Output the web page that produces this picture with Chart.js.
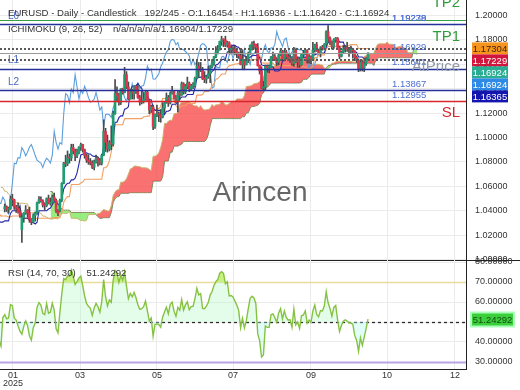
<!DOCTYPE html>
<html>
<head>
<meta charset="utf-8">
<script src="https://cdn.jsdelivr.net/npm/chart.js@4.4.1/dist/chart.umd.min.js"></script>
<style>
html,body{margin:0;padding:0;background:#ffffff;overflow:hidden;}
#wrap{position:relative;width:520px;height:390px;overflow:hidden;}
canvas{position:absolute;left:0;}
#mainC{top:0;}
#rsiC{top:250px;}
</style>
</head>
<body>
<div id="wrap">
<canvas id="mainC" width="520" height="272" style="width:520px;height:272px"></canvas>
<canvas id="rsiC" width="520" height="140" style="width:520px;height:140px"></canvas>
</div>
<script>
const FONT = '"Liberation Sans", Arial, sans-serif';

// ---------- hidden history (indicator warm-up only) ----------
const histOpen = [1.0880,1.0930,1.0730,1.0800,1.0718,1.0655,1.0623,1.0565,1.0530,1.0540,
1.0597,1.0595,1.0545,1.0470,1.0450,1.0495,1.0487,1.0565,1.0555,1.0576,
1.0497,1.0510,1.0512,1.0588,1.0568,1.0553,1.0528,1.0502,1.0468,1.0500,
1.0512,1.0490,1.0350,1.0363,1.0430,1.0405,1.0395,1.0423,1.0427,1.0410,
1.0355,1.0265,1.0307,1.0390,1.0340,1.0320,1.0300,1.0243,1.0245,1.0307,
1.0290,1.0300,1.0272];
const histHigh = [1.0937,1.0935,1.0805,1.0815,1.0720,1.0665,1.0655,1.0580,1.0570,1.0608,
1.0630,1.0610,1.0555,1.0490,1.0532,1.0510,1.0590,1.0585,1.0597,1.0580,
1.0545,1.0545,1.0590,1.0630,1.0595,1.0560,1.0535,1.0525,1.0520,1.0535,
1.0520,1.0505,1.0410,1.0445,1.0445,1.0410,1.0433,1.0455,1.0455,1.0415,
1.0365,1.0320,1.0435,1.0435,1.0345,1.0325,1.0315,1.0255,1.0315,1.0355,
1.0325,1.0310,1.0435];
const histLow = [1.0870,1.0682,1.0715,1.0705,1.0650,1.0595,1.0560,1.0497,1.0495,1.0520,
1.0525,1.0522,1.0460,1.0335,1.0425,1.0425,1.0470,1.0535,1.0530,1.0460,
1.0475,1.0490,1.0500,1.0545,1.0535,1.0510,1.0485,1.0455,1.0455,1.0480,
1.0475,1.0345,1.0345,1.0345,1.0380,1.0380,1.0385,1.0400,1.0385,1.0345,
1.0225,1.0250,1.0305,1.0330,1.0280,1.0285,1.0215,1.0178,1.0235,1.0270,
1.0265,1.0265,1.0265];
const histClose = [1.0930,1.0730,1.0800,1.0718,1.0655,1.0623,1.0565,1.0530,1.0540,1.0597,
1.0595,1.0545,1.0470,1.0418,1.0495,1.0487,1.0565,1.0555,1.0576,1.0497,
1.0510,1.0512,1.0588,1.0568,1.0553,1.0528,1.0502,1.0468,1.0500,1.0512,
1.0490,1.0350,1.0363,1.0430,1.0405,1.0395,1.0423,1.0427,1.0410,1.0355,
1.0265,1.0307,1.0390,1.0340,1.0320,1.0300,1.0243,1.0245,1.0307,1.0290,
1.0300,1.0272,1.0415];

// ---------- visible candles (192) ----------
const openPrices = [1.0415,1.0432,1.0410,1.0415,1.0495,1.0490,1.0430,1.0420,1.0390,1.0245,
1.0345,1.0380,1.0405,1.0383,1.0330,1.0307,1.0360,1.0380,1.0465,1.0492,
1.0482,1.0447,1.0442,1.0500,1.0460,1.0465,1.0512,1.0485,1.0397,1.0400,
1.0485,1.0625,1.0790,1.0785,1.0835,1.0832,1.0918,1.0890,1.0850,1.0880,
1.0922,1.0942,1.0900,1.0852,1.0815,1.0800,1.0790,1.0755,1.0800,1.0830,
1.0815,1.0790,1.0855,1.1050,1.0960,1.0905,1.0958,1.0945,1.1195,1.1360,
1.1345,1.1285,1.1398,1.1368,1.1515,1.1415,1.1315,1.1388,1.1362,1.1420,
1.1380,1.1327,1.1290,1.1297,1.1315,1.1370,1.1303,1.1225,1.1250,1.1090,
1.1187,1.1192,1.1186,1.1165,1.1242,1.1285,1.1328,1.1283,1.1362,1.1385,
1.1328,1.1294,1.1365,1.1347,1.1440,1.1373,1.1418,1.1446,1.1397,1.1422,
1.1425,1.1487,1.1585,1.1550,1.1560,1.1480,1.1478,1.1497,1.1523,1.1580,
1.1610,1.1663,1.1700,1.1720,1.1787,1.1804,1.1798,1.1760,1.1777,1.1722,
1.1725,1.1720,1.1705,1.1690,1.1670,1.1598,1.1640,1.1595,1.1627,1.1690,
1.1755,1.1770,1.1763,1.1742,1.1590,1.1545,1.1405,1.1415,1.1585,1.1573,
1.1573,1.1660,1.1665,1.1642,1.1616,1.1675,1.1705,1.1647,1.1700,1.1663,
1.1647,1.1650,1.1608,1.1718,1.1621,1.1640,1.1597,1.1680,1.1685,1.1713,
1.1640,1.1660,1.1645,1.1718,1.1760,1.1708,1.1695,1.1735,1.1733,1.1763,
1.1868,1.1815,1.1785,1.1745,1.1802,1.1815,1.1738,1.1665,1.1700,1.1725,
1.1733,1.1727,1.1717,1.1717,1.1710,1.1657,1.1630,1.1563,1.1617,1.1570,
1.1605,1.16454];
const highPrices = [1.0455,1.0440,1.0430,1.0520,1.0535,1.0495,1.0445,1.0465,1.0415,1.0375,
1.0385,1.0442,1.0410,1.0430,1.0335,1.0375,1.0390,1.0470,1.0515,1.0513,
1.0490,1.0465,1.0505,1.0528,1.0505,1.0528,1.0545,1.0495,1.0410,1.0495,
1.0630,1.0797,1.0855,1.0890,1.0865,1.0945,1.0945,1.0905,1.0905,1.0925,
1.0955,1.0945,1.0905,1.0865,1.0860,1.0828,1.0810,1.0815,1.0855,1.0835,
1.0830,1.0865,1.1145,1.1075,1.1020,1.0975,1.1095,1.1215,1.1475,1.1415,
1.1365,1.1400,1.1405,1.1575,1.1540,1.1455,1.1395,1.1395,1.1425,1.1425,
1.1425,1.1345,1.1380,1.1360,1.1380,1.1380,1.1310,1.1265,1.1265,1.1195,
1.1265,1.1210,1.1230,1.1285,1.1290,1.1365,1.1345,1.1375,1.1420,1.1385,
1.1345,1.1385,1.1385,1.1455,1.1450,1.1435,1.1495,1.1455,1.1435,1.1450,
1.1495,1.1630,1.1615,1.1615,1.1575,1.1540,1.1505,1.1585,1.1590,1.1640,
1.1665,1.1745,1.1755,1.1790,1.1830,1.1810,1.1830,1.1790,1.1785,1.1760,
1.1745,1.1750,1.1720,1.1700,1.1720,1.1720,1.1640,1.1665,1.1700,1.1760,
1.1785,1.1790,1.1765,1.1770,1.1595,1.1580,1.1460,1.1595,1.1595,1.1595,
1.1665,1.1700,1.1680,1.1655,1.1685,1.1730,1.1715,1.1715,1.1715,1.1685,
1.1675,1.1660,1.1740,1.1725,1.1660,1.1650,1.1690,1.1715,1.1725,1.1720,
1.1680,1.1670,1.1780,1.1765,1.1780,1.1725,1.1745,1.1755,1.1770,1.1875,
1.1918,1.1825,1.1790,1.1810,1.1820,1.1815,1.1750,1.1710,1.1755,1.1755,
1.1780,1.1740,1.1750,1.1730,1.1710,1.1670,1.1645,1.1630,1.1630,1.1620,
1.1655,1.16936];
const lowPrices = [1.0390,1.0395,1.0380,1.0410,1.0440,1.0410,1.0385,1.0380,1.0345,1.0141,
1.0305,1.0370,1.0345,1.0305,1.0285,1.0300,1.0315,1.0370,1.0460,1.0470,
1.0430,1.0405,1.0432,1.0455,1.0445,1.0455,1.0480,1.0385,1.0360,1.0390,
1.0475,1.0620,1.0760,1.0770,1.0790,1.0810,1.0865,1.0810,1.0835,1.0865,
1.0895,1.0880,1.0830,1.0795,1.0780,1.0775,1.0745,1.0735,1.0790,1.0765,
1.0775,1.0775,1.0850,1.0885,1.0880,1.0890,1.0900,1.0930,1.1190,1.1300,
1.1265,1.1270,1.1355,1.1365,1.1400,1.1310,1.1315,1.1315,1.1315,1.1360,
1.1320,1.1265,1.1275,1.1282,1.1305,1.1295,1.1195,1.1205,1.1065,1.1075,
1.1170,1.1130,1.1125,1.1160,1.1205,1.1280,1.1255,1.1275,1.1355,1.1315,
1.1285,1.1210,1.1315,1.1345,1.1355,1.1360,1.1400,1.1375,1.1385,1.1400,
1.1415,1.1480,1.1490,1.1540,1.1475,1.1450,1.1445,1.1485,1.1450,1.1570,
1.1590,1.1655,1.1685,1.1715,1.1755,1.1745,1.1745,1.1740,1.1685,1.1685,
1.1685,1.1680,1.1655,1.1650,1.1595,1.1555,1.1555,1.1595,1.1615,1.1680,
1.1715,1.1725,1.1690,1.1585,1.1520,1.1400,1.1390,1.1390,1.1535,1.1530,
1.1570,1.1640,1.1630,1.1590,1.1595,1.1670,1.1630,1.1645,1.1645,1.1630,
1.1615,1.1590,1.1585,1.1615,1.1575,1.1575,1.1590,1.1660,1.1680,1.1610,
1.1610,1.1605,1.1640,1.1700,1.1705,1.1685,1.1660,1.1715,1.1720,1.1750,
1.1780,1.1760,1.1725,1.1730,1.1780,1.1735,1.1645,1.1660,1.1695,1.1700,
1.1705,1.1665,1.1695,1.1650,1.1630,1.1615,1.1540,1.1545,1.1545,1.1540,
1.1590,1.16420];
const closePrices = [1.0432,1.0410,1.0415,1.0495,1.0490,1.0430,1.0420,1.0390,1.0362,1.0345,
1.0380,1.0405,1.0383,1.0330,1.0307,1.0360,1.0380,1.0465,1.0492,1.0482,
1.0447,1.0442,1.0500,1.0460,1.0465,1.0512,1.0485,1.0397,1.0375,1.0485,
1.0625,1.0790,1.0785,1.0835,1.0832,1.0918,1.0890,1.0850,1.0880,1.0922,
1.0942,1.0900,1.0852,1.0815,1.0800,1.0790,1.0755,1.0800,1.0830,1.0815,
1.0790,1.0855,1.1050,1.0960,1.0905,1.0958,1.0945,1.1195,1.1360,1.1345,
1.1285,1.1398,1.1368,1.1515,1.1415,1.1315,1.1388,1.1362,1.1420,1.1380,
1.1327,1.1290,1.1297,1.1315,1.1370,1.1303,1.1225,1.1250,1.1090,1.1187,
1.1192,1.1186,1.1165,1.1242,1.1285,1.1328,1.1283,1.1362,1.1385,1.1328,
1.1294,1.1365,1.1347,1.1440,1.1373,1.1418,1.1446,1.1397,1.1422,1.1425,
1.1487,1.1585,1.1550,1.1560,1.1480,1.1478,1.1497,1.1523,1.1580,1.1610,
1.1663,1.1700,1.1720,1.1787,1.1804,1.1798,1.1760,1.1777,1.1722,1.1725,
1.1720,1.1705,1.1690,1.1670,1.1598,1.1640,1.1595,1.1627,1.1690,1.1755,
1.1770,1.1763,1.1742,1.1590,1.1545,1.1405,1.1415,1.1585,1.1573,1.1573,
1.1660,1.1665,1.1642,1.1616,1.1675,1.1705,1.1647,1.1700,1.1663,1.1647,
1.1650,1.1608,1.1718,1.1621,1.1640,1.1597,1.1680,1.1685,1.1713,1.1640,
1.1660,1.1645,1.1718,1.1760,1.1708,1.1695,1.1735,1.1733,1.1763,1.1868,
1.1815,1.1785,1.1745,1.1802,1.1815,1.1738,1.1665,1.1700,1.1725,1.1733,
1.1727,1.1717,1.1717,1.1710,1.1657,1.1630,1.1563,1.1617,1.1570,1.1605,
1.1645,1.16924];

// ---------- axes / labels ----------
const tickPositions = [4.3, 39.6, 80, 120, 161, 201, 236.7];
const tickLabels = ['01','03','05','07','09','10','12'];
const yearLabel = '2025';
const priceTicks = [1.00,1.02,1.04,1.06,1.08,1.10,1.12,1.14,1.16,1.18,1.20];
const rsiTicks = [30,40,50,60,70,80];

// ---------- trade levels ----------
const levelNames = ['TP2','L0','L1','L2','SL'];
const levelPrices = [1.1962, 1.19279, 1.15641, 1.13867, 1.12955];
const markerPrices = [1.17264, 1.16929, 1.16365];   // TP1 / AtPrice / last-tenkan markers
const priceTagValues = [1.19279, 1.19238, 1.16929, 1.15641, 1.13867, 1.12955];
const axisBoxValues = [1.17304, 1.17229, 1.16924, 1.16924, 1.16365];
const rsiLevels = [70, 50, 30];
const rsiLast = 51.24292;

const headerLine1 = 'EURUSD - Daily - Candlestick   192/245 - O:1.16454 - H:1.16936 - L:1.16420 - C:1.16924';
const headerLine2 = 'ICHIMOKU (9, 26, 52)    n/a/n/a/n/a/1.16904/1.17229';
const rsiHeader = 'RSI (14, 70, 30)    51.24292';
const watermarkText = 'Arincen';

// ---------- build series ----------
const H0 = histClose.length;
const allHigh = histHigh.concat(highPrices);
const allLow = histLow.concat(lowPrices);
const allClose = histClose.concat(closePrices);
const N = allClose.length;
function midRange(i, p) {
  if (i < p - 1) return null;
  let h = -Infinity, l = Infinity;
  for (let k = i - p + 1; k <= i; k++) { if (allHigh[k] > h) h = allHigh[k]; if (allLow[k] < l) l = allLow[k]; }
  return (h + l) / 2;
}
const tenkan = [], kijun = [], spanA = [], spanB = [], chikou = [];
for (let i = 0; i < N; i++) {
  const v = i - H0;
  const t = midRange(i, 9), k = midRange(i, 26), b = midRange(i, 52);
  tenkan.push({x: v, y: t});
  kijun.push({x: v, y: k});
  spanA.push({x: v + 26, y: (t !== null && k !== null) ? (t + k) / 2 : null});
  spanB.push({x: v + 26, y: b});
  chikou.push({x: v - 26, y: allClose[i]});
}
const bodies = [], wicks = [];
for (let v = 0; v < closePrices.length; v++) {
  bodies.push({x: v, y: [openPrices[v], closePrices[v]]});
  wicks.push({x: v, y: [lowPrices[v], highPrices[v]]});
}
const rsi = [];
{
  let ag = 0, al = 0;
  for (let i = 1; i < N; i++) {
    const d = allClose[i] - allClose[i - 1];
    const g = Math.max(d, 0), l = Math.max(-d, 0);
    if (i <= 14) { ag += g; al += l; if (i === 14) { ag /= 14; al /= 14; rsi.push({x: i - H0, y: 100 - 100 / (1 + ag / al)}); } }
    else { ag = (ag * 13 + g) / 14; al = (al * 13 + l) / 14; rsi.push({x: i - H0, y: al === 0 ? 100 : 100 - 100 / (1 + ag / al)}); }
  }
}

const UP = '#1f9e74', DOWN = '#e3324c';
const GRID = '#ebebeb';
const XMIN = -2.5, XMAX = 242.5;
const noPad = s => { s.paddingTop = 0; s.paddingBottom = 0; s.paddingLeft = 0; s.paddingRight = 0; };

// ---------- plugins ----------
const mainDecor = {
  id: 'mainDecor',
  beforeDatasetsDraw(chart) {
    const {ctx, chartArea: a} = chart;
    ctx.save();
    ctx.font = '28px ' + FONT;
    ctx.fillStyle = 'rgba(95,95,95,0.95)';
    ctx.textAlign = 'center'; ctx.textBaseline = 'middle';
    ctx.fillText(watermarkText, chart.width / 2, a.top + a.height * 0.742);
    ctx.restore();
  },
  afterDatasetsDraw(chart) {
    const {ctx, chartArea: a} = chart;
    const ys = chart.scales.y;
    const P = v => ys.getPixelForValue(v);
    ctx.save();
    ctx.beginPath(); ctx.rect(a.left, a.top, a.width, a.height); ctx.clip();
    const hline = (val, color, w, dash) => {
      const py = Math.round(P(val)) + (w % 2 ? 0.5 : 0);
      ctx.beginPath(); ctx.setLineDash(dash || []); ctx.strokeStyle = color; ctx.lineWidth = w;
      ctx.moveTo(a.left, py); ctx.lineTo(a.right, py); ctx.stroke();
    };
    hline(markerPrices[1], '#9a9a9a', 1);
    hline(markerPrices[0], '#5a5a5a', 2, [2, 2]);
    hline(markerPrices[2], '#5a5a5a', 2, [2, 2]);
    hline(levelPrices[0], '#3aa046', 1);
    hline(levelPrices[1], '#25309a', 1.5);
    hline(levelPrices[2], '#25309a', 1.5);
    hline(levelPrices[3], '#25309a', 1.5);
    hline(levelPrices[4], '#d8262e', 1.5);
    ctx.restore();

    ctx.save();
    ctx.font = '9.5px ' + FONT; ctx.fillStyle = '#4d6fd0'; ctx.textAlign = 'left'; ctx.textBaseline = 'middle';
    priceTagValues.forEach(v => ctx.fillText(v.toFixed(5), a.right - 74, P(v) - 6));
    ctx.font = '10px ' + FONT; ctx.fillStyle = '#4a66c8';
    [1, 2, 3].forEach(i => ctx.fillText(levelNames[i], a.left + 8, P(levelPrices[i]) - 8));
    ctx.font = '15px ' + FONT; ctx.textAlign = 'right';
    ctx.fillStyle = '#2e9e3a'; ctx.textBaseline = 'bottom';
    ctx.fillText('TP2', a.right - 6, P(levelPrices[0]) - 10);
    ctx.fillText('TP1', a.right - 6, P(markerPrices[0]) - 5);
    ctx.fillStyle = 'rgba(140,150,165,0.95)'; ctx.textBaseline = 'middle';
    ctx.fillText('AtPrice', a.right - 6, P(markerPrices[1]) + 13.5);
    ctx.fillStyle = '#d8262e'; ctx.textBaseline = 'top';
    ctx.fillText('SL', a.right - 6, P(levelPrices[4]) + 4);
    ctx.restore();
  },
  afterDraw(chart) {
    const {ctx, chartArea: a} = chart;
    const ys = chart.scales.y;
    ctx.save();
    ctx.strokeStyle = '#222'; ctx.lineWidth = 1;
    ctx.beginPath(); ctx.moveTo(0, a.bottom + 0.5); ctx.lineTo(chart.width, a.bottom + 0.5); ctx.stroke();
    ctx.font = '9.6px ' + FONT; ctx.fillStyle = '#333'; ctx.textAlign = 'left'; ctx.textBaseline = 'middle';
    ctx.fillText(headerLine1, 8, 13.5);
    ctx.fillText(headerLine2, 8, 29);
    const boxColors = ['#f7941d', '#d2153c', '#2aad93', '#2f8ae6', '#1414ae'];
    const boxText = ['#3a2608', '#ffffff', '#ffffff', '#ffffff', '#ffffff'];
    let prev = -Infinity;
    ctx.font = '9.5px ' + FONT; ctx.textAlign = 'center';
    axisBoxValues.forEach((v, i) => {
      let cy = ys.getPixelForValue(v);
      if (cy < prev + 12) cy = prev + 12;
      prev = cy;
      ctx.fillStyle = boxColors[i];
      ctx.fillRect(a.right + 6, cy - 6, 36, 12);
      ctx.fillStyle = boxText[i];
      ctx.fillText(v.toFixed(5), a.right + 24, cy + 0.5);
    });
    ctx.restore();
  }
};

const rsiDecor = {
  id: 'rsiDecor',
  beforeDatasetsDraw(chart) {
    const {ctx, chartArea: a} = chart;
    const ys = chart.scales.y;
    ctx.save();
    const styles = [['#e9dc9c', 1.5, []], ['#2a2a2a', 1.3, [3, 3]], ['#b8a5e6', 2, []]];
    rsiLevels.forEach((lv, i) => {
      const py = Math.round(ys.getPixelForValue(lv)) + 0.5;
      ctx.beginPath(); ctx.strokeStyle = styles[i][0]; ctx.lineWidth = styles[i][1]; ctx.setLineDash(styles[i][2]);
      ctx.moveTo(a.left, py); ctx.lineTo(a.right, py); ctx.stroke();
    });
    ctx.restore();
  },
  afterDraw(chart) {
    const {ctx, chartArea: a} = chart;
    const ys = chart.scales.y;
    ctx.save();
    ctx.font = '9.6px ' + FONT; ctx.fillStyle = '#333'; ctx.textAlign = 'left'; ctx.textBaseline = 'middle';
    ctx.fillText(rsiHeader, 8, a.top + 13);
    const cy = ys.getPixelForValue(rsiLast);
    ctx.fillStyle = 'rgba(150,255,170,0.8)';
    ctx.fillRect(a.right + 4, cy - 8, 45, 16);
    ctx.fillStyle = '#3ccf3c';
    ctx.fillRect(a.right + 6, cy - 6, 41, 12);
    ctx.font = '9.5px ' + FONT; ctx.fillStyle = '#134d13'; ctx.textAlign = 'center';
    ctx.fillText(rsiLast.toFixed(5), a.right + 26.5, cy + 0.5);
    ctx.restore();
  }
};

const tickFont = {family: FONT, size: 9};

new Chart(document.getElementById('mainC'), {
  type: 'bar',
  data: {
    datasets: [
      {type: 'bar', data: bodies, grouped: false, barThickness: 2, minBarLength: 1, borderWidth: 0, order: 0,
       backgroundColor: c => (closePrices[c.dataIndex] >= openPrices[c.dataIndex] ? UP : DOWN)},
      {type: 'bar', data: wicks, grouped: false, barThickness: 1, borderWidth: 0, order: 1, backgroundColor: '#4a4a4a'},
      {type: 'line', data: tenkan, borderColor: '#2626a6', borderWidth: 1.1, pointRadius: 0, order: 2},
      {type: 'line', data: kijun, borderColor: '#f3a063', borderWidth: 1.1, pointRadius: 0, order: 3},
      {type: 'line', data: chikou, borderColor: '#5c9fdc', borderWidth: 1.1, pointRadius: 0, order: 4},
      {type: 'line', data: spanA, borderColor: '#c9b46a', borderWidth: 1, pointRadius: 0, order: 5,
       fill: {target: '+1', above: 'rgba(249,78,78,0.8)', below: 'rgba(125,232,95,0.8)'}},
      {type: 'line', data: spanB, borderColor: '#66775a', borderWidth: 1, pointRadius: 0, order: 6}
    ]
  },
  options: {
    responsive: false, animation: false, events: [],
    layout: {padding: {left: 0, right: 0, top: 0, bottom: 0}},
    plugins: {legend: {display: false}, tooltip: {enabled: false}, filler: {propagate: false}},
    scales: {
      x: {type: 'linear', min: XMIN, max: XMAX, offset: false,
          afterBuildTicks: s => { s.ticks = tickPositions.map(v => ({value: v})); },
          afterFit: s => { s.height = 12; noPad(s); },
          ticks: {display: false}, grid: {color: GRID, drawTicks: false, offset: false}, border: {display: false}},
      y: {type: 'linear', position: 'right', min: 0.9996, max: 1.2127,
          afterBuildTicks: s => { s.ticks = priceTicks.map(v => ({value: v})); },
          afterFit: s => { s.width = 54; noPad(s); },
          ticks: {callback: v => Number(v).toFixed(5), font: tickFont, color: '#333', padding: 9, autoSkip: false},
          grid: {color: GRID, drawTicks: false}, border: {display: true, color: '#222', width: 1}}
    }
  },
  plugins: [mainDecor]
});

new Chart(document.getElementById('rsiC'), {
  type: 'line',
  data: {
    datasets: [
      {data: rsi, borderColor: '#86c241', borderWidth: 1.4, pointRadius: 0,
       fill: {target: {value: 50}, above: 'rgba(175,250,195,0.35)', below: 'rgba(165,250,235,0.35)'}},
      {data: rsi, borderWidth: 0, borderColor: 'rgba(0,0,0,0)', pointRadius: 0,
       fill: {target: {value: 70}, above: 'rgba(205,232,60,0.8)', below: 'rgba(0,0,0,0)'}}
    ]
  },
  options: {
    responsive: false, animation: false, events: [],
    layout: {padding: {left: 0, right: 0, top: 10, bottom: 0}},
    plugins: {legend: {display: false}, tooltip: {enabled: false}, filler: {propagate: false}},
    scales: {
      x: {type: 'linear', min: XMIN, max: XMAX, offset: false,
          afterBuildTicks: s => { s.ticks = tickPositions.map(v => ({value: v})); },
          afterFit: s => { s.height = 21; noPad(s); },
          ticks: {autoSkip: false, maxRotation: 0, padding: 3, color: '#333', font: {family: FONT, size: 9, lineHeight: 0.85},
                  callback: (v, i) => (i === 0 ? [tickLabels[0], yearLabel] : tickLabels[i])},
          grid: {color: GRID, drawTicks: false}, border: {display: true, color: '#222', width: 1}},
      y: {type: 'linear', position: 'right', min: 26.5, max: 81,
          afterBuildTicks: s => { s.ticks = rsiTicks.map(v => ({value: v})); },
          afterFit: s => { s.width = 54; noPad(s); },
          ticks: {callback: v => Number(v).toFixed(5), font: tickFont, color: '#333', padding: 9, autoSkip: false},
          grid: {color: GRID, drawTicks: false}, border: {display: true, color: '#222', width: 1}}
    }
  },
  plugins: [rsiDecor]
});
</script>
</body>
</html>
